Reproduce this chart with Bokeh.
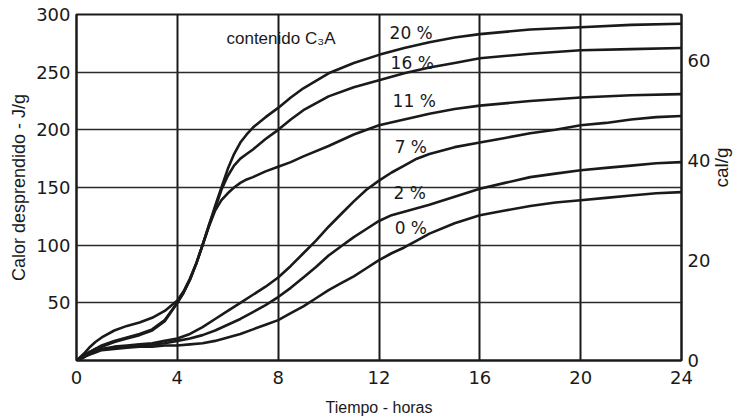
import math
from bokeh.plotting import figure
from bokeh.models import Range1d, LinearAxis, FixedTicker, Label, ColumnDataSource
from bokeh.embed import file_html
from bokeh.resources import INLINE
from bokeh.core.properties import value

# --- data ---
hours_a = [0.0, 0.3, 0.5, 0.75, 1.0, 1.5, 2.0, 2.5, 3.0, 3.5, 4.0, 4.25, 4.5, 4.75,
           5.0, 5.25, 5.5, 5.75, 6.0, 6.25, 6.5, 6.75, 7.0, 7.5, 8.0, 8.5, 9.0,
           10.0, 11.0, 12.0, 13.0, 14.0, 15.0, 16.0, 18.0, 20.0, 22.0, 24.0]
c3a_20 = [0, 6, 11, 16, 20, 26, 30, 33, 37, 43, 52, 60, 71, 84,
          100, 117, 134, 150, 166, 179, 189, 196, 202, 211, 219, 228, 236,
          249, 258, 265, 271, 276, 280, 283, 287, 289, 291, 292]
c3a_16 = [0, 4, 7, 10, 13, 17, 20, 23, 27, 35, 50, 59, 70, 84,
          100, 117, 132, 148, 160, 169, 175, 179, 183, 192, 200, 209, 217,
          229, 237, 243, 249, 254, 258, 262, 266, 269, 270, 271]
c3a_11 = [0, 4, 7, 10, 12, 16, 19, 22, 26, 34, 50, 59, 70, 84,
          100, 116, 130, 139, 145, 150, 154, 157, 159, 164, 168, 172, 177,
          186, 196, 204, 209, 214, 218, 221, 225, 228, 230, 231]

hours_b = [0.0, 0.3, 0.5, 0.75, 1.0, 1.5, 2.0, 2.5, 3.0, 3.5, 4.0, 4.5, 5.0, 5.5,
           6.0, 6.5, 7.0, 7.5, 8.0, 8.5, 9.0, 9.5, 10.0, 10.5, 11.0, 11.5, 12.0,
           12.5, 13.0, 13.5, 14.0, 15.0, 16.0, 17.0, 18.0, 19.0, 20.0, 21.0, 22.0,
           23.0, 24.0]
c3a_7 = [0, 3, 6, 8, 10, 12, 13, 14, 15, 17, 19, 23, 29, 36,
         43, 50, 57, 64, 72, 82, 93, 104, 116, 127, 138, 148, 156,
         163, 169, 175, 179, 185, 189, 193, 197, 200, 204, 206, 209,
         211, 212]
c3a_2 = [0, 3, 6, 8, 10, 11, 12, 13, 14, 15, 17, 19, 22, 26,
         31, 36, 42, 48, 55, 63, 72, 81, 91, 99, 107, 114, 121,
         126, 129, 132, 135, 142, 149, 154, 159, 162, 165, 167, 169,
         171, 172]
c3a_0 = [0, 3, 5, 7, 9, 10, 11, 12, 12, 13, 13, 14, 15, 17,
         20, 23, 27, 31, 35, 41, 47, 54, 61, 67, 73, 80, 87,
         93, 98, 104, 110, 119, 126, 130, 134, 137, 139, 141, 143,
         145, 146]

curve_labels = ["20 %", "16 %", "11 %", "7 %", "2 %", "0 %"]
label_x = [12.42, 12.46, 12.54, 12.62, 12.58, 12.62]
label_y = [284, 258, 225, 185.5, 145, 115]

x_ticks = [0, 4, 8, 12, 16, 20, 24]
y_ticks = [50, 100, 150, 200, 250, 300]
cal_ticks = [0, 20, 40, 60]

NUM_FONT = "DejaVu Sans"
TXT_FONT = "Liberation Sans"
INK = "#1a1a1a"

p = figure(frame_width=605, frame_height=346, output_backend="svg", toolbar_location=None,
           x_range=Range1d(0, 24), y_range=Range1d(0, 300),
           min_border_left=76, min_border_right=59, min_border_top=14, min_border_bottom=59)
p.background_fill_color = "white"
p.border_fill_color = "white"
p.outline_line_color = INK
p.outline_line_width = 2

p.extra_y_ranges = {"cal": Range1d(0, 69.3)}

# grids
p.xgrid.ticker = FixedTicker(ticks=[4, 8, 12, 16, 20])
p.xgrid.grid_line_color = INK
p.xgrid.grid_line_width = 2
p.ygrid.ticker = FixedTicker(ticks=[50, 100, 150, 200, 250])
p.ygrid.grid_line_color = "#2a2a2a"
p.ygrid.grid_line_width = 1.6

# axes
xa = p.xaxis[0]
xa.ticker = FixedTicker(ticks=x_ticks)
xa.axis_label = "Tiempo - horas"
ya = p.yaxis[0]
ya.ticker = FixedTicker(ticks=y_ticks)
ya.axis_label = "Calor desprendido - J/g"

ra = LinearAxis(y_range_name="cal", ticker=FixedTicker(ticks=cal_ticks), axis_label="cal/g")
try:
    ra.axis_label_orientation = math.pi / 2
except Exception:
    pass
p.add_layout(ra, "right")

for ax in [xa, ya, ra]:
    ax.axis_line_color = INK
    ax.axis_line_width = 2
    ax.major_tick_line_color = None
    ax.minor_tick_line_color = None
    ax.major_tick_out = 0
    ax.major_tick_in = 0
    ax.minor_tick_out = 0
    ax.minor_tick_in = 0
    ax.major_label_text_font = NUM_FONT
    ax.major_label_text_font_size = "18px"
    ax.major_label_text_color = INK
    ax.axis_label_text_font = TXT_FONT
    ax.axis_label_text_font_size = "16px"
    ax.axis_label_text_font_style = "normal"
    ax.axis_label_text_color = INK
ya.axis_label_text_font_size = "18px"
ra.axis_label_text_font_size = "19px"
xa.major_label_standoff = 10
xa.axis_label_standoff = 12
ya.major_label_standoff = 6
ya.axis_label_standoff = 4
ra.major_label_standoff = 6
ra.axis_label_standoff = 8

# curves
for xs, ys in [(hours_a, c3a_20), (hours_a, c3a_16), (hours_a, c3a_11),
               (hours_b, c3a_7), (hours_b, c3a_2), (hours_b, c3a_0)]:
    p.line(xs, ys, line_color=INK, line_width=2.6, line_join="round", line_cap="round")

# curve labels
src = ColumnDataSource(dict(x=label_x, y=label_y, t=curve_labels))
p.text(x="x", y="y", text="t", source=src, text_font=value(NUM_FONT),
       text_font_size="17px", text_color=INK, text_align="left", text_baseline="middle")

p.add_layout(Label(x=5.95, y=279, text="contenido C\u2083A", text_font=TXT_FONT,
                   text_font_size="17px", text_color=INK, text_baseline="middle"))

open("out.html", "w").write(file_html(p, INLINE))
